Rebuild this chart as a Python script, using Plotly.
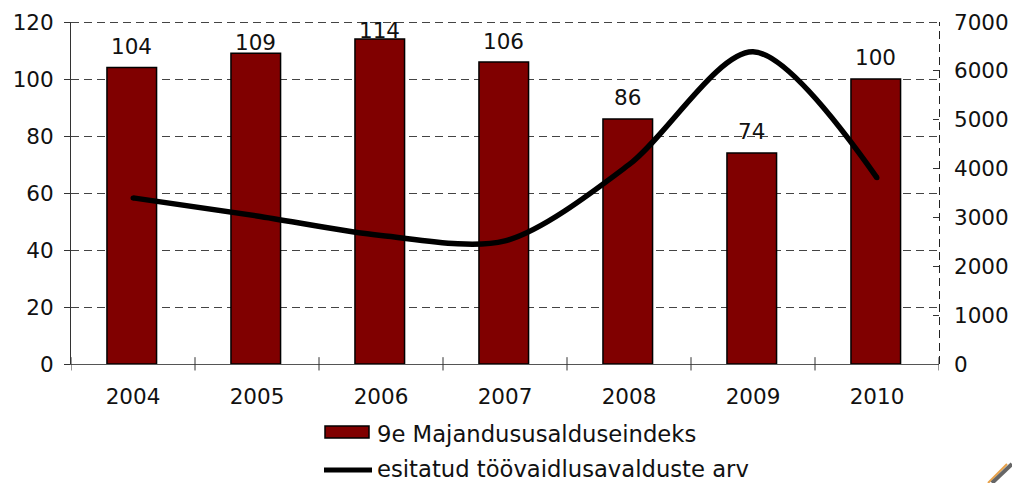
import plotly.graph_objects as go

years = ["2004", "2005", "2006", "2007", "2008", "2009", "2010"]
index_values = [104, 109, 114, 106, 86, 74, 100]
applications = [3400, 3030, 2630, 2520, 4080, 6390, 3810]
label_gap = [13, 2, 0, 11.5, 13, 13, 13]
line_end_marker = [5, 0, 0, 0, 0, 0, 5]
bar_name = "9e Majandususalduseindeks"
line_name = "esitatud töövaidlusavalduste arv"
FONT = "DejaVu Sans"
INK = "#111111"
GRID = "#444444"
L, T, W, H = 71, 22, 868, 342


def px(x):
    return (x - L) / W


def py(y):
    return (T + H - y) / H


fig = go.Figure()
fig.add_trace(go.Bar(x=years, y=index_values, name=bar_name, width=0.4, offset=-0.21,
                     marker=dict(color="#800000", line=dict(color="black", width=1.5)),
                     showlegend=False))
fig.add_trace(go.Scatter(x=years, y=applications, name=line_name, yaxis="y2", mode="lines+markers",
                         line=dict(color="black", width=5.5, shape="spline", smoothing=0.85),
                         marker=dict(color="black", size=line_end_marker, line=dict(width=0), opacity=1),
                         showlegend=False))

for i, (v, s) in enumerate(zip(index_values, label_gap)):
    fig.add_annotation(x=i - 0.01, y=v, text=str(v), showarrow=False, yanchor="bottom", yshift=s - 6,
                       font=dict(family=FONT, size=21.5, color=INK))

shapes = []
for i in range(len(years) + 1):
    shapes.append(dict(type="line", xref="x", yref="paper", x0=i - 0.5, x1=i - 0.5, y0=-0.019, y1=0.02,
                       line=dict(color="#333333", width=1)))
shapes.append(dict(type="line", xref="paper", yref="paper", x0=1 + 0.5 / W, x1=1 + 0.5 / W, y0=0, y1=1,
                   line=dict(color="#222222", width=1, dash="8px,5px")))
shapes.append(dict(type="line", xref="paper", yref="paper", x0=0, x1=1, y0=1 - 0.5 / H, y1=1 - 0.5 / H,
                   line=dict(color=GRID, width=1, dash="8px,5px")))
shapes.append(dict(type="rect", xref="paper", yref="paper", x0=px(325), x1=px(369), y0=py(438), y1=py(426),
                   fillcolor="#800000", line=dict(color="black", width=1.5)))
shapes.append(dict(type="line", xref="paper", yref="paper", x0=px(324), x1=px(372), y0=py(470), y1=py(470),
                   line=dict(color="black", width=5)))
# corner fragment of the pencil icon
shapes.append(dict(type="line", xref="paper", yref="paper", x0=px(988), x1=px(1007), y0=py(483), y1=py(464),
                   line=dict(color="#e8a24a", width=2)))
shapes.append(dict(type="line", xref="paper", yref="paper", x0=px(992), x1=px(1012), y0=py(483), y1=py(464),
                   line=dict(color="#666666", width=4)))

fig.add_annotation(xref="paper", yref="paper", x=px(375), y=py(434), text=bar_name,
                   showarrow=False, xanchor="left", yanchor="middle", font=dict(family=FONT, size=22.7, color=INK))
fig.add_annotation(xref="paper", yref="paper", x=px(375), y=py(469.5), text=line_name,
                   showarrow=False, xanchor="left", yanchor="middle", font=dict(family=FONT, size=22.7, color=INK))

fig.update_layout(
    width=1012, height=483, margin=dict(l=L, r=1012 - L - W, t=T, b=483 - T - H, autoexpand=False),
    paper_bgcolor="white", plot_bgcolor="white",
    font=dict(family=FONT, size=21.5, color=INK), bargap=0.6, shapes=shapes,
    xaxis=dict(type="category", tickson="boundaries", ticks="", showgrid=False, showline=True,
               linecolor="#555555", linewidth=1, range=[-0.5, 6.5], ticklabelstandoff=13),
    yaxis=dict(range=[0, 120], tickvals=[0, 20, 40, 60, 80, 100, 120], ticks="outside", ticklen=6,
               tickcolor="#333333", showline=True, linecolor="#333333", linewidth=1, ticklabelstandoff=6,
               showgrid=True, gridcolor=GRID, griddash="8px,5px", gridwidth=1, zeroline=False),
    yaxis2=dict(range=[0, 7000], tickvals=[0, 1000, 2000, 3000, 4000, 5000, 6000, 7000], overlaying="y",
                side="right", ticks="inside", ticklen=6, tickcolor="#333333", showgrid=False,
                zeroline=False, showline=False, ticklabelstandoff=14),
)
fig.write_html("out.html", config={"displayModeBar": False},
               post_script="document.body.style.margin='0';document.body.style.overflow='hidden';")
